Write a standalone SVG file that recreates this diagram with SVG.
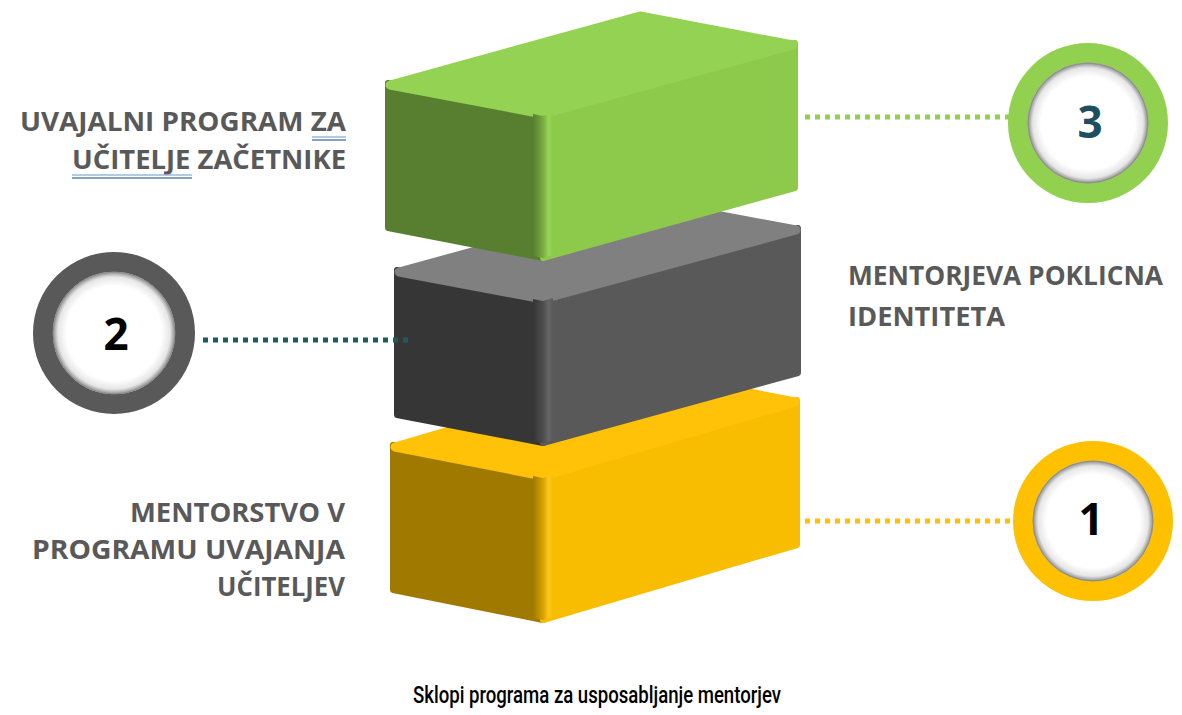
<svg xmlns="http://www.w3.org/2000/svg" width="1182" height="715" viewBox="0 0 1182 715">
  <defs>
    <linearGradient id="edgeG" x1="0" y1="0" x2="1" y2="0">
      <stop offset="0" stop-color="#577f2f"/>
      <stop offset="0.5" stop-color="#78ab41"/>
      <stop offset="0.78" stop-color="#98d657"/>
      <stop offset="1" stop-color="#8dc94b"/>
    </linearGradient>
    <linearGradient id="edgeK" x1="0" y1="0" x2="1" y2="0">
      <stop offset="0" stop-color="#363636"/>
      <stop offset="0.5" stop-color="#4c4c4c"/>
      <stop offset="0.78" stop-color="#666666"/>
      <stop offset="1" stop-color="#595959"/>
    </linearGradient>
    <linearGradient id="edgeY" x1="0" y1="0" x2="1" y2="0">
      <stop offset="0" stop-color="#a07a00"/>
      <stop offset="0.5" stop-color="#d6a200"/>
      <stop offset="0.78" stop-color="#ffc81a"/>
      <stop offset="1" stop-color="#f8bd00"/>
    </linearGradient>
    <radialGradient id="inner" cx="0.5" cy="0.5" r="0.5">
      <stop offset="0" stop-color="#ffffff"/>
      <stop offset="0.78" stop-color="#ffffff"/>
      <stop offset="0.92" stop-color="#e6e6e6"/>
      <stop offset="1" stop-color="#8f8f8f"/>
    </radialGradient>
    <style>
      .face { stroke-width: 6; stroke-linejoin: round; }
      .top { stroke-width: 9; stroke-linejoin: round; }
      .gL { fill: #577f2f; stroke: #577f2f; }
      .gR { fill: #8dc94b; stroke: #8dc94b; }
      .gT { fill: #94d253; stroke: #94d253; }
      .kL { fill: #363636; stroke: #363636; }
      .kR { fill: #595959; stroke: #595959; }
      .kT { fill: #808080; stroke: #808080; }
      .yL { fill: #a07a00; stroke: #a07a00; }
      .yR { fill: #f8bd00; stroke: #f8bd00; }
      .yT { fill: #ffc208; stroke: #ffc208; }
      .ring { fill: none; stroke-width: 20; }
      .inner { fill: url(#inner); stroke: #8a8a8a; stroke-width: 1; }
      .num { font-family: "Open Sans", "Liberation Sans", sans-serif; font-weight: 700; font-size: 44px; text-anchor: middle; }
      .lbl { font-family: "Open Sans", "Liberation Sans", sans-serif; font-weight: 700; font-size: 27px; fill: #595959; }
      .dots { stroke-width: 5; stroke-dasharray: 5 5; fill: none; }
      .ul1 { stroke: #9bb8d6; stroke-width: 1.5; }
      .ul2 { stroke: #5b84b1; stroke-width: 1.5; }
      .cap { font-family: Roboto, "Noto Sans", sans-serif; font-size: 24px; font-weight: 500; fill: #000000; }
    </style>
  </defs>
  <rect width="1182" height="715" fill="#ffffff"/>

  <g id="box-yellow">
    <polygon class="face yL" points="393,445 543,475 543,620 393,590"/>
    <polygon class="face yR" points="543,475 797,400 797,545 543,620"/>
    <polygon class="top yT" points="395,447 543,476 795,402 647,373"/>
    <polygon fill="url(#edgeY)" points="533,476 543,478 553,475 553,617 543,620 533,618"/>
  </g>

  <g id="box-gray">
    <polygon class="face kL" points="397,270 543,298 543,443 397,415"/>
    <polygon class="face kR" points="543,298 798,228 798,373 543,443"/>
    <polygon class="top kT" points="399,272 543,299 796,230 652,203"/>
    <polygon fill="url(#edgeK)" points="533,299 543,301 553,298 553,440 543,443 533,441"/>
  </g>

  <g id="box-green">
    <polygon class="face gL" points="388,83 543,113 543,258 388,228"/>
    <polygon class="face gR" points="543,113 795,43 795,188 543,258"/>
    <polygon class="top gT" points="390,85 543,114 793,45 640,16"/>
    <polygon fill="url(#edgeG)" points="533,114 543,116 553,113 553,255 543,258 533,256"/>
  </g>

  <g id="connectors">
    <line class="dots" x1="805" y1="117" x2="1010" y2="117" stroke="#92d050"/>
    <line class="dots" x1="203" y1="340" x2="413" y2="340" stroke="#1d5c5c"/>
    <line class="dots" x1="805" y1="521" x2="1015" y2="521" stroke="#ffc000"/>
  </g>

  <g id="circle-3">
    <circle class="ring" cx="1088" cy="123" r="70" stroke="#92d050"/>
    <circle class="inner" cx="1088" cy="123" r="60"/>
    <text class="num" x="1090" y="138" fill="#1f4e5f">3</text>
  </g>

  <g id="circle-2">
    <circle class="ring" cx="114" cy="333" r="71" stroke="#595959"/>
    <circle class="inner" cx="114" cy="333" r="61"/>
    <text class="num" x="116" y="350" fill="#000000">2</text>
  </g>

  <g id="circle-1">
    <circle class="ring" cx="1093" cy="521" r="70" stroke="#ffc000"/>
    <circle class="inner" cx="1093" cy="521" r="60"/>
    <text class="num" x="1091" y="535" fill="#000000">1</text>
  </g>

  <g id="label-3">
    <text class="lbl" x="20" y="131" textLength="326" lengthAdjust="spacingAndGlyphs">UVAJALNI PROGRAM ZA</text>
    <text class="lbl" x="72" y="169" textLength="274" lengthAdjust="spacingAndGlyphs">UČITELJE ZAČETNIKE</text>
    <line class="ul1" x1="312" y1="137" x2="346" y2="137"/>
    <line class="ul2" x1="312" y1="140" x2="346" y2="140"/>
    <line class="ul1" x1="72" y1="175" x2="192" y2="175"/>
    <line class="ul2" x1="72" y1="178" x2="192" y2="178"/>
  </g>

  <g id="label-2">
    <text class="lbl" x="848" y="285" textLength="315" lengthAdjust="spacingAndGlyphs">MENTORJEVA POKLICNA</text>
    <text class="lbl" x="848" y="326" textLength="157" lengthAdjust="spacingAndGlyphs">IDENTITETA</text>
  </g>

  <g id="label-1">
    <text class="lbl" x="130" y="522" textLength="215" lengthAdjust="spacingAndGlyphs">MENTORSTVO V</text>
    <text class="lbl" x="32" y="559" textLength="313" lengthAdjust="spacingAndGlyphs">PROGRAMU UVAJANJA</text>
    <text class="lbl" x="217" y="596" textLength="128" lengthAdjust="spacingAndGlyphs">UČITELJEV</text>
  </g>

  <g id="caption">
    <text class="cap" x="413" y="703" textLength="368" lengthAdjust="spacingAndGlyphs">Sklopi programa za usposabljanje mentorjev</text>
  </g>
</svg>
